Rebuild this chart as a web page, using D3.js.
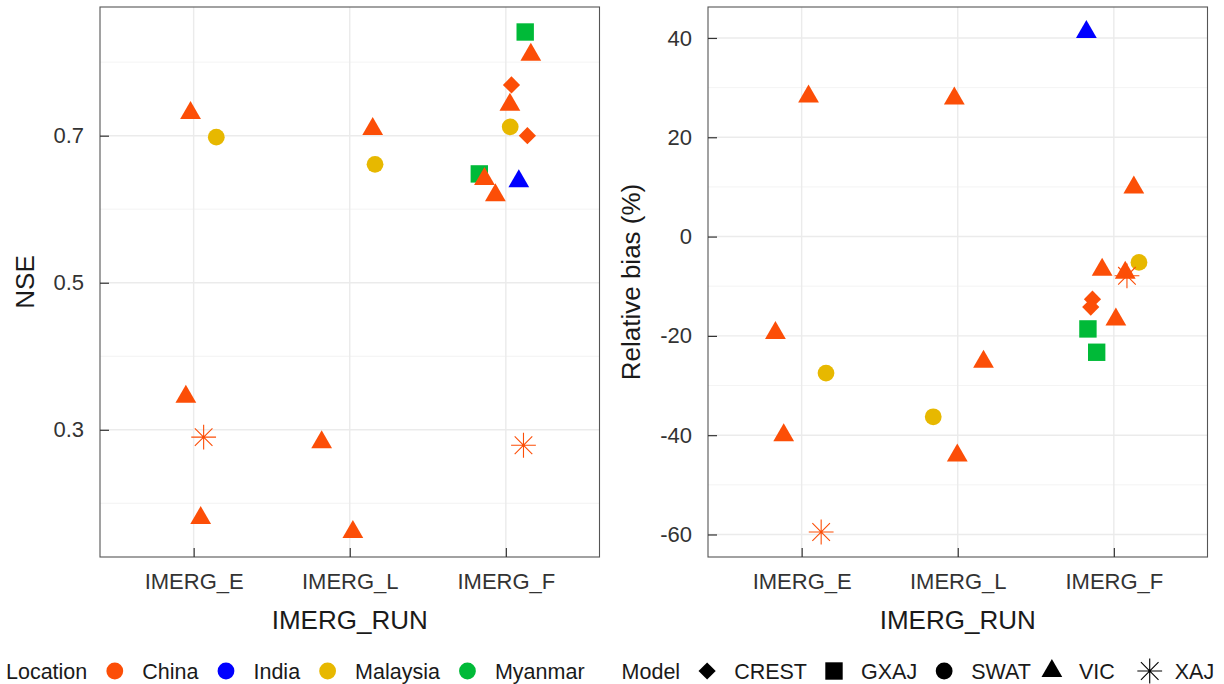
<!DOCTYPE html>
<html>
<head>
<meta charset="utf-8">
<script src="https://cdn.jsdelivr.net/npm/d3@7"></script>
<style>
    body { margin: 0; background: #fff; }
    svg { font-family: "Liberation Sans", Arial, sans-serif; }
</style>
</head>
<body>
<div id="chart"></div>
<script>
const runs = ["IMERG_E", "IMERG_L", "IMERG_F"];
const locations = ["China", "India", "Malaysia", "Myanmar"];
const models = ["CREST", "GXAJ", "SWAT", "VIC", "XAJ"];
const locationColors = ["#FC4E07", "#0000FF", "#E7B800", "#00BA38"];

// NSE panel (jitter = horizontal offset in category units)
const nseRun = ["IMERG_E", "IMERG_E", "IMERG_E", "IMERG_E", "IMERG_E",
    "IMERG_L", "IMERG_L", "IMERG_L", "IMERG_L",
    "IMERG_F", "IMERG_F", "IMERG_F", "IMERG_F", "IMERG_F", "IMERG_F",
    "IMERG_F", "IMERG_F", "IMERG_F", "IMERG_F", "IMERG_F"];
const nseLocation = ["China", "China", "China", "Malaysia", "China",
    "China", "Malaysia", "China", "China",
    "Myanmar", "China", "China", "China", "Malaysia", "China",
    "Myanmar", "China", "China", "India", "China"];
const nseModel = ["VIC", "VIC", "VIC", "SWAT", "XAJ",
    "VIC", "SWAT", "VIC", "VIC",
    "GXAJ", "VIC", "CREST", "VIC", "SWAT", "CREST",
    "GXAJ", "VIC", "VIC", "VIC", "XAJ"];
const nseValue = [0.731, 0.345, 0.180, 0.698, 0.290,
    0.709, 0.661, 0.283, 0.161,
    0.841, 0.810, 0.769, 0.742, 0.712, 0.700,
    0.648, 0.641, 0.619, 0.638, 0.279];
const nseJitter = [-0.02, -0.05, 0.045, 0.145, 0.064,
    0.147, 0.162, -0.18, 0.02,
    0.124, 0.16, 0.036, 0.026, 0.028, 0.138,
    -0.17, -0.137, -0.067, 0.083, 0.113];

// Relative bias panel
const rbRun = ["IMERG_E", "IMERG_E", "IMERG_E", "IMERG_E", "IMERG_E",
    "IMERG_L", "IMERG_L", "IMERG_L", "IMERG_L",
    "IMERG_F", "IMERG_F", "IMERG_F", "IMERG_F", "IMERG_F", "IMERG_F",
    "IMERG_F", "IMERG_F", "IMERG_F", "IMERG_F", "IMERG_F"];
const rbLocation = ["China", "China", "China", "Malaysia", "China",
    "China", "China", "China", "Malaysia",
    "India", "China", "Malaysia", "China", "China", "China",
    "China", "China", "China", "Myanmar", "Myanmar"];
const rbModel = ["VIC", "VIC", "VIC", "SWAT", "XAJ",
    "VIC", "VIC", "VIC", "SWAT",
    "VIC", "VIC", "SWAT", "VIC", "VIC", "XAJ",
    "CREST", "CREST", "VIC", "GXAJ", "GXAJ"];
const rbValue = [28.2, -19.4, -40.0, -27.5, -59.5,
    27.8, -25.2, -44.1, -36.3,
    41.2, 9.9, -5.2, -6.7, -7.3, -7.9,
    -12.6, -14.2, -16.7, -18.6, -23.3];
const rbJitter = [0.044, -0.168, -0.115, 0.156, 0.125,
    -0.022, 0.165, -0.003, -0.157,
    -0.176, 0.128, 0.161, -0.075, 0.073, 0.084,
    -0.137, -0.148, 0.013, -0.166, -0.11];

const nseTicks = [0.3, 0.5, 0.7];
const nseMinor = [0.2, 0.4, 0.6, 0.8];
const rbTicks = [-60, -40, -20, 0, 20, 40];
const rbMinor = [-50, -30, -10, 10, 30];

const width = 1224;
const height = 684;
const colorScale = d3.scaleOrdinal().domain(locations).range(locationColors);

const svg = d3.select("#chart")
    .append("svg")
    .attr("width", width)
    .attr("height", height);

// shapes, centred on 0,0
function shapePath(model) {
    if (model === "CREST") return "M0,-8.6L8.6,0L0,8.6L-8.6,0Z";
    if (model === "GXAJ") return "M-8.7,-8.7H8.7V8.7H-8.7Z";
    if (model === "SWAT") return "M8.4,0A8.4,8.4 0 1,1 -8.4,0A8.4,8.4 0 1,1 8.4,0Z";
    if (model === "VIC") return "M0,-12L10.4,6L-10.4,6Z";
    // XAJ asterisk
    return "M-12.4,0H12.4M0,-12.4V12.4M-8.8,-8.8L8.8,8.8M-8.8,8.8L8.8,-8.8";
}

function addMark(g, model, color, tx, ty) {
    const p = g.append("path")
        .attr("transform", `translate(${tx},${ty})`)
        .attr("d", shapePath(model));
    if (model === "XAJ") {
        p.attr("fill", "none").attr("stroke", color).attr("stroke-width", 1.1);
    } else {
        p.attr("fill", color);
    }
}

function drawPanel(o) {
    const g = svg.append("g");
    const x = d3.scaleLinear().domain([0.4, 3.6]).range([o.left, o.right]);

    const lo = d3.min(o.values), hi = d3.max(o.values);
    const pad = (hi - lo) * 0.05;
    const y = d3.scaleLinear().domain([lo - pad, hi + pad]).range([o.bottom, o.top]);

    // grid
    g.selectAll(".minor")
        .data(o.minor)
        .enter().append("line")
        .attr("x1", o.left).attr("x2", o.right)
        .attr("y1", d => y(d)).attr("y2", d => y(d))
        .attr("stroke", "#f0f0f0").attr("stroke-width", 0.8);
    g.selectAll(".major")
        .data(o.ticks)
        .enter().append("line")
        .attr("x1", o.left).attr("x2", o.right)
        .attr("y1", d => y(d)).attr("y2", d => y(d))
        .attr("stroke", "#ebebeb").attr("stroke-width", 1.4);
    g.selectAll(".vmajor")
        .data([1, 2, 3])
        .enter().append("line")
        .attr("x1", d => x(d)).attr("x2", d => x(d))
        .attr("y1", o.top).attr("y2", o.bottom)
        .attr("stroke", "#ebebeb").attr("stroke-width", 1.4);

    // points
    o.values.forEach((v, i) => {
        const xi = runs.indexOf(o.run[i]) + 1 + o.jitter[i];
        addMark(g, o.model[i], colorScale(o.location[i]), x(xi), y(v));
    });

    // border
    g.append("rect")
        .attr("x", o.left).attr("y", o.top)
        .attr("width", o.right - o.left).attr("height", o.bottom - o.top)
        .attr("fill", "none").attr("stroke", "#555").attr("stroke-width", 1.1);

    // Y axis
    const yAxis = g.append("g")
        .attr("transform", `translate(${o.left},0)`)
        .call(d3.axisLeft(y).tickValues(o.ticks).tickFormat(o.fmt)
            .tickSizeInner(-9).tickSizeOuter(0).tickPadding(16));
    yAxis.select(".domain").remove();
    yAxis.selectAll("line").attr("stroke", "#333").attr("stroke-width", 1.2);
    yAxis.selectAll("text")
        .attr("fill", "#333")
        .style("font-size", "22px")
        .style("font-family", "Liberation Sans, Arial, sans-serif");

    // X axis
    const xAxis = g.append("g")
        .attr("transform", `translate(0,${o.bottom})`)
        .call(d3.axisBottom(x).tickValues([1, 2, 3]).tickFormat(d => runs[d - 1])
            .tickSizeInner(-9).tickSizeOuter(0).tickPadding(16));
    xAxis.select(".domain").remove();
    xAxis.selectAll("line").attr("stroke", "#333").attr("stroke-width", 1.2);
    xAxis.selectAll("text")
        .attr("fill", "#333")
        .style("font-size", "22px")
        .style("font-family", "Liberation Sans, Arial, sans-serif");

    // titles
    g.append("text")
        .attr("x", (o.left + o.right) / 2)
        .attr("y", 629)
        .attr("text-anchor", "middle")
        .attr("fill", "#1a1a1a")
        .style("font-size", "26px")
        .text("IMERG_RUN");

    g.append("text")
        .attr("transform", `translate(${o.titleX},${(o.top + o.bottom) / 2}) rotate(-90)`)
        .attr("text-anchor", "middle")
        .attr("dy", "0.35em")
        .attr("fill", "#1a1a1a")
        .style("font-size", "26px")
        .text(o.title);
}

drawPanel({
    left: 100, right: 599.5, top: 7, bottom: 557,
    run: nseRun, location: nseLocation, model: nseModel, values: nseValue, jitter: nseJitter,
    ticks: nseTicks, minor: nseMinor, fmt: d3.format(".1f"),
    title: "NSE", titleX: 25
});

drawPanel({
    left: 708, right: 1207.5, top: 7, bottom: 557,
    run: rbRun, location: rbLocation, model: rbModel, values: rbValue, jitter: rbJitter,
    ticks: rbTicks, minor: rbMinor, fmt: d => String(d),
    title: "Relative bias (%)", titleX: 631
});

// Legend
const legendY = 671;
const legend = svg.append("g").style("font-size", "21.5px");
let cursor = 6;

function legendText(t) {
    const el = legend.append("text")
        .attr("x", cursor)
        .attr("y", legendY)
        .attr("dy", "0.36em")
        .attr("fill", "#1a1a1a")
        .text(t);
    cursor += el.node().getComputedTextLength();
}

legendText("Location");
locations.forEach(loc => {
    cursor += 27.5;
    addMark(legend, "SWAT", colorScale(loc), cursor, legendY);
    cursor += 27.5;
    legendText(loc);
});
cursor += 37;
legendText("Model");
models.forEach(m => {
    // the triangle key sits tighter after SWAT, the asterisk a bit further from VIC
    cursor += m === "VIC" ? 21 : (m === "XAJ" ? 35 : 27);
    addMark(legend, m, "#000", cursor, legendY);
    cursor += m === "XAJ" ? 25 : 27;
    legendText(m);
});
</script>
</body>
</html>
